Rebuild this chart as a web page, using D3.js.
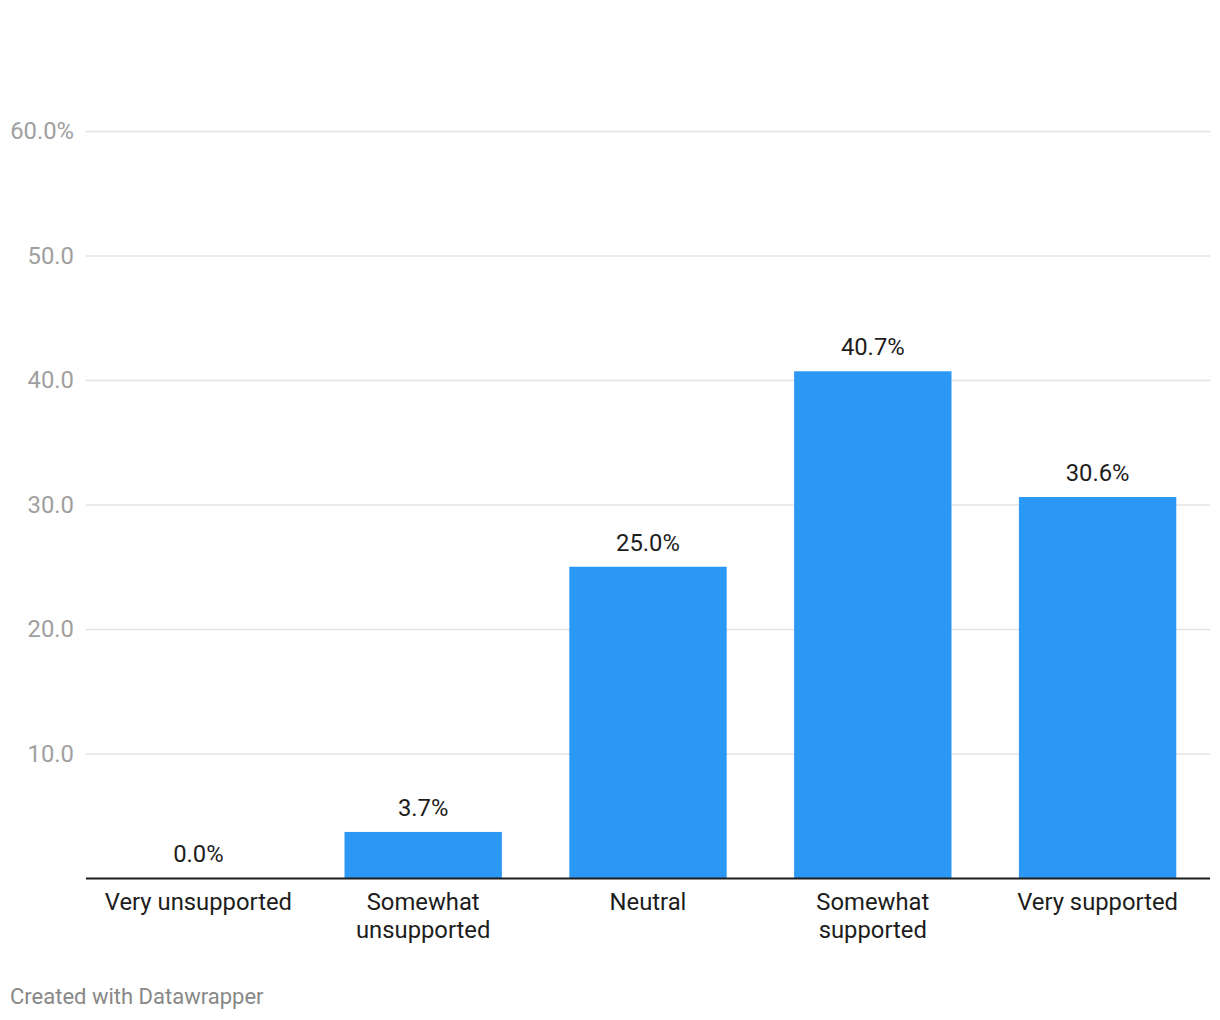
<!DOCTYPE html>
<html><head><meta charset="utf-8">
<script src="https://cdn.jsdelivr.net/npm/d3@7"></script>
<style>
body{margin:0;background:#fff;font-family:Roboto,sans-serif;}
</style></head>
<body><svg id="c" width="1220" height="1020"></svg>
<script>
const categories = ["Very unsupported","Somewhat unsupported","Neutral","Somewhat supported","Very supported"];
const categoryLines = [["Very unsupported"],["Somewhat","unsupported"],["Neutral"],["Somewhat","supported"],["Very supported"]];
const values = [0.0, 3.7, 25.0, 40.7, 30.6];
const valueLabels = ["0.0%","3.7%","25.0%","40.7%","30.6%"];
const ticks = [10, 20, 30, 40, 50, 60];
const tickLabels = ["10.0","20.0","30.0","40.0","50.0","60.0%"];

const svg = d3.select("#c");
const x = d3.scaleBand().domain(categories).range([86,1210]).paddingInner(0.3).paddingOuter(0.15);
const y = d3.scaleLinear().domain([0,60]).range([878,131]);
const FS = 23.8;

// gridlines
svg.append("g").selectAll("line").data(ticks).join("line")
  .attr("x1",86).attr("x2",1210)
  .attr("y1",d=>y(d)+0.5).attr("y2",d=>y(d)+0.5)
  .attr("stroke","#e3e3e3").attr("stroke-width",1.5);
svg.append("g").selectAll("text").data(ticks).join("text")
  .attr("x",74).attr("y",d=>y(d)).attr("dy","0.35em")
  .attr("text-anchor","end").attr("font-size",FS).attr("fill","#a0a0a0")
  .text((d,i)=>tickLabels[i]);

// bars
svg.append("g").selectAll("rect").data(values).join("rect")
  .attr("x",(d,i)=>x(categories[i])).attr("width",x.bandwidth())
  .attr("y",d=>y(d)).attr("height",d=>y(0)-y(d))
  .attr("fill","#2b98f6");

// value labels
svg.append("g").selectAll("text").data(values).join("text")
  .attr("x",(d,i)=>x(categories[i])+x.bandwidth()/2)
  .attr("y",d=>y(d)-16)
  .attr("text-anchor","middle").attr("font-size",FS).attr("fill","#1d1d1d")
  .text((d,i)=>valueLabels[i]);

// axis line
svg.append("line").attr("x1",86).attr("x2",1210).attr("y1",y(0)+0.5).attr("y2",y(0)+0.5)
  .attr("stroke","#1d1d1d").attr("stroke-width",2);

// category labels
const cl = svg.append("g").selectAll("text").data(categories).join("text")
  .attr("x",d=>x(d)+x.bandwidth()/2).attr("y",910)
  .attr("text-anchor","middle").attr("font-size",FS).attr("fill","#1d1d1d");
cl.each(function(d,i){
  const t=d3.select(this);
  categoryLines[i].forEach((s,j)=>t.append("tspan").attr("x",x(d)+x.bandwidth()/2).attr("y",910+j*28).text(s));
});

svg.append("text").attr("x",10).attr("y",1004).attr("font-size",22).attr("fill","#888")
  .text("Created with Datawrapper");
</script></body></html>
